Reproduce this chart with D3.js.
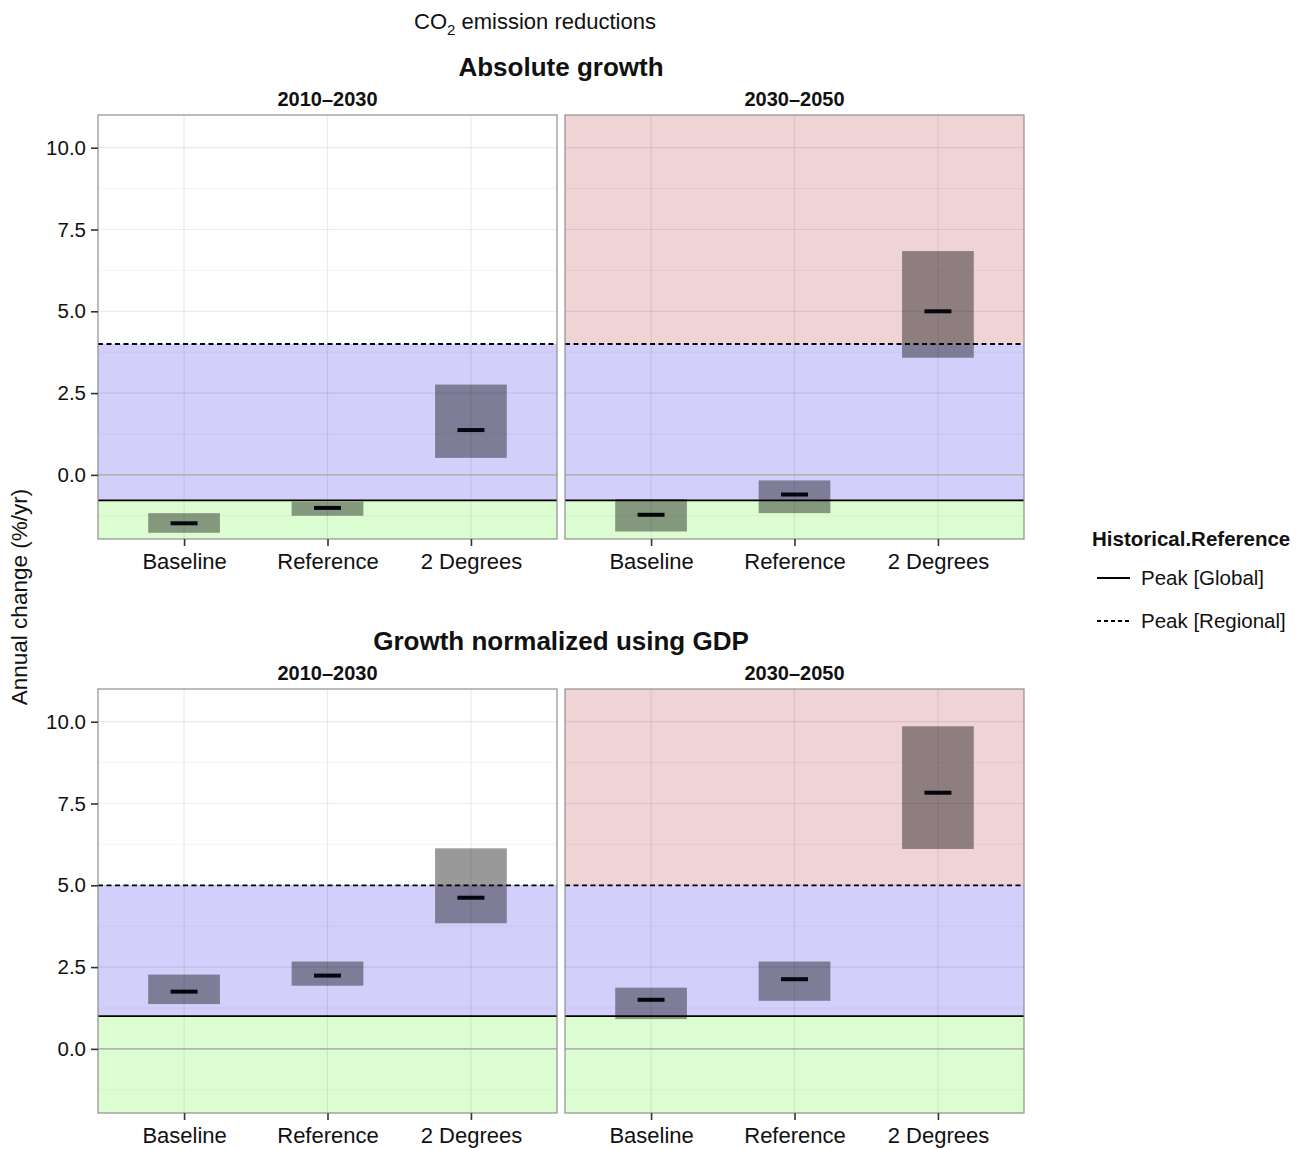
<!DOCTYPE html>
<html lang="en">
<head>
<meta charset="utf-8">
<title>CO2 emission reductions</title>
<script src="https://d3js.org/d3.v7.min.js"></script>
<style>
  body { margin: 0; background: #fff; }
  svg { display: block; font-family: "Liberation Sans", Arial, sans-serif; }
</style>
</head>
<body>
<script>
// ---- data ----
const measures  = ["Absolute growth", "Growth normalized using GDP"];
const periods   = ["2010\u20132030", "2030\u20132050"];
const scenarios = ["Baseline", "Reference", "2 Degrees"];

// box ranges and medians, [measure][period][scenario]
const boxLow = [
  [[-1.77, -1.25, 0.52], [-1.73, -1.17, 3.58]],
  [[ 1.37,  1.93, 3.84], [ 0.91,  1.47, 6.11]]
];
const boxHigh = [
  [[-1.17, -0.82, 2.76], [-0.74, -0.17, 6.84]],
  [[ 2.27,  2.67, 6.13], [ 1.87,  2.67, 9.86]]
];
const boxMid = [
  [[-1.48, -1.01, 1.37], [-1.22, -0.60, 5.00]],
  [[ 1.75,  2.24, 4.62], [ 1.50,  2.13, 7.83]]
];

// historical reference lines per measure
const peakGlobal   = [-0.78, 1.0];
const peakRegional = [4.0, 5.0];

const yTicks = [0, 2.5, 5, 7.5, 10];
const yMinor = [-1.25, 1.25, 3.75, 6.25, 8.75];
const yDomain = [-1.96, 11.0];

const legendTitle = "Historical.Reference";
const legendItems = ["Peak [Global]", "Peak [Regional]"];

// ---- layout ----
const W = 1301, H = 1149;
const panelX = [98, 565], panelW = 459;
const panelY = [115, 689], panelH = 424;

const colBlue = "#d2cffa", colGreen = "#dcfdd2", colRed = "#efd3d5";

const svg = d3.select("body").append("svg").attr("width", W).attr("height", H);

const y = d3.scaleLinear().domain(yDomain).range([panelH, 0]);
const x = d3.scalePoint().domain(scenarios).range([0, panelW]).padding(0.6);
const step = x.step();

// title
const t = svg.append("text").attr("x", 535).attr("y", 29)
  .attr("text-anchor", "middle").attr("font-size", 22).attr("fill", "#111");
t.append("tspan").text("CO");
t.append("tspan").text("2").attr("font-size", 15).attr("dy", 6);
t.append("tspan").text(" emission reductions").attr("dy", -6);

// y axis title
svg.append("text")
  .attr("transform", "translate(27,597) rotate(-90)")
  .attr("text-anchor", "middle").attr("font-size", 22.5).attr("fill", "#111")
  .text("Annual change (%/yr)");

measures.forEach((m, mi) => {
  const py = panelY[mi];
  svg.append("text")
    .attr("x", (panelX[0] + panelX[1] + panelW) / 2).attr("y", py - 39)
    .attr("text-anchor", "middle").attr("font-size", 26).attr("font-weight", "bold")
    .attr("fill", "#111").text(m);

  periods.forEach((p, pi) => {
    const px = panelX[pi];
    const g = svg.append("g").attr("transform", `translate(${px},${py})`);

    // strip label
    svg.append("text").attr("x", px + panelW / 2).attr("y", py - 9)
      .attr("text-anchor", "middle").attr("font-size", 20).attr("font-weight", "bold")
      .attr("fill", "#111").text(p);

    // background bands
    const gl = peakGlobal[mi], rg = peakRegional[mi];
    g.append("rect").attr("x", 0).attr("width", panelW)
      .attr("y", y(gl)).attr("height", y(yDomain[0]) - y(gl)).attr("fill", colGreen);
    g.append("rect").attr("x", 0).attr("width", panelW)
      .attr("y", y(rg)).attr("height", y(gl) - y(rg)).attr("fill", colBlue);
    if (pi === 1) {
      g.append("rect").attr("x", 0).attr("width", panelW)
        .attr("y", 0).attr("height", y(rg)).attr("fill", colRed);
    }

    // grid
    g.selectAll(".minor").data(yMinor).join("line")
      .attr("x1", 0).attr("x2", panelW).attr("y1", d => y(d)).attr("y2", d => y(d))
      .attr("stroke", "rgba(0,0,0,0.045)").attr("stroke-width", 1);
    g.selectAll(".major").data(yTicks.filter(d => d !== 0)).join("line")
      .attr("x1", 0).attr("x2", panelW).attr("y1", d => y(d)).attr("y2", d => y(d))
      .attr("stroke", "rgba(0,0,0,0.08)").attr("stroke-width", 1.2);
    g.selectAll(".vgrid").data(scenarios).join("line")
      .attr("x1", d => x(d)).attr("x2", d => x(d)).attr("y1", 0).attr("y2", panelH)
      .attr("stroke", "rgba(0,0,0,0.08)").attr("stroke-width", 1.2);
    g.append("line").attr("x1", 0).attr("x2", panelW).attr("y1", y(0)).attr("y2", y(0))
      .attr("stroke", "#b3b3b3").attr("stroke-width", 1.8);

    // boxes
    g.selectAll(".box").data(scenarios).join("rect")
      .attr("x", d => x(d) - step * 0.25).attr("width", step * 0.5)
      .attr("y", (d, i) => y(boxHigh[mi][pi][i]))
      .attr("height", (d, i) => y(boxLow[mi][pi][i]) - y(boxHigh[mi][pi][i]))
      .attr("fill", "#000").attr("fill-opacity", 0.4);

    // reference lines
    g.append("line").attr("x1", 0).attr("x2", panelW).attr("y1", y(gl)).attr("y2", y(gl))
      .attr("stroke", "#000").attr("stroke-width", 1.8);
    g.append("line").attr("x1", 0).attr("x2", panelW).attr("y1", y(rg)).attr("y2", y(rg))
      .attr("stroke", "#000").attr("stroke-width", 1.8).attr("stroke-dasharray", "5,3.5");

    // medians
    g.selectAll(".mid").data(scenarios).join("line")
      .attr("x1", d => x(d) - 13.5).attr("x2", d => x(d) + 13.5)
      .attr("y1", (d, i) => y(boxMid[mi][pi][i])).attr("y2", (d, i) => y(boxMid[mi][pi][i]))
      .attr("stroke", "#050510").attr("stroke-width", 4);

    // border
    g.append("rect").attr("width", panelW).attr("height", panelH)
      .attr("fill", "none").attr("stroke", "#8f8f8f").attr("stroke-width", 1.2);

    // x axis
    const xa = g.append("g").attr("transform", `translate(0,${panelH})`)
      .call(d3.axisBottom(x).tickSize(7).tickPadding(7));
    xa.select(".domain").remove();
    xa.selectAll("line").attr("stroke", "#333").attr("stroke-width", 1.6);
    xa.selectAll("text").attr("font-size", 22).attr("fill", "#111")
      .attr("font-family", "Liberation Sans, Arial, sans-serif");

    // y axis on left panels only
    if (pi === 0) {
      const ya = g.append("g")
        .call(d3.axisLeft(y).tickValues(yTicks).tickFormat(d3.format(".1f")).tickSize(7).tickPadding(5));
      ya.select(".domain").remove();
      ya.selectAll("line").attr("stroke", "#333").attr("stroke-width", 1.6);
      ya.selectAll("text").attr("font-size", 20.5).attr("fill", "#111")
        .attr("font-family", "Liberation Sans, Arial, sans-serif");
    }
  });
});

// legend
const lg = svg.append("g").attr("transform", "translate(1092,546)");
lg.append("text").attr("x", 0).attr("y", 0).attr("font-size", 20.5)
  .attr("font-weight", "bold").attr("fill", "#111").text(legendTitle);
legendItems.forEach((txt, i) => {
  const ly = 32 + i * 43;
  lg.append("line").attr("x1", 5).attr("x2", 38).attr("y1", ly).attr("y2", ly)
    .attr("stroke", "#000").attr("stroke-width", 1.8)
    .attr("stroke-dasharray", i === 1 ? "4,3" : null);
  lg.append("text").attr("x", 49).attr("y", ly + 7).attr("font-size", 20.5)
    .attr("fill", "#111").text(txt);
});
</script>
</body>
</html>
